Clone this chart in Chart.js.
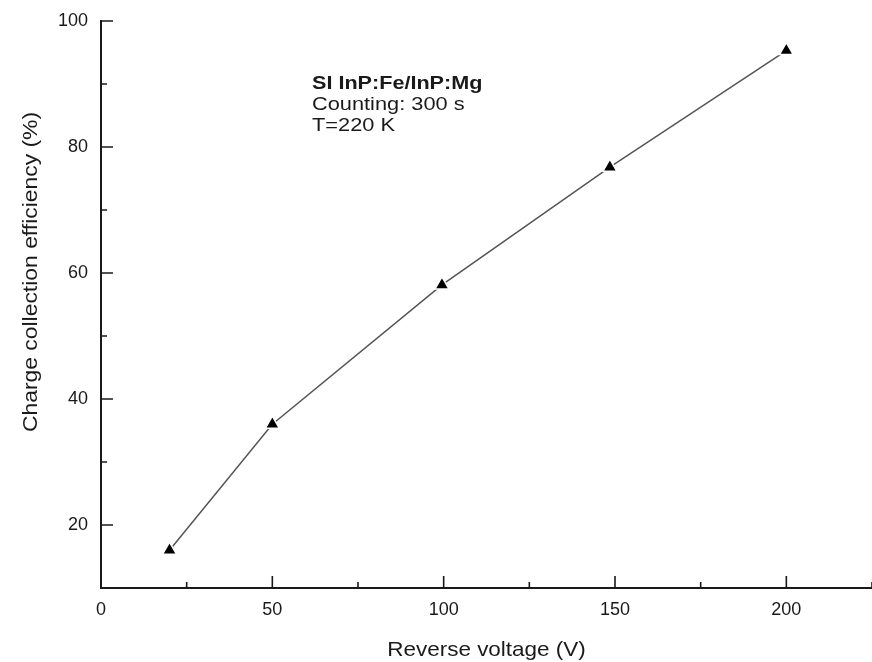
<!DOCTYPE html>
<html>
<head>
<meta charset="utf-8">
<script src="https://cdn.jsdelivr.net/npm/chart.js@4"></script>
<style>
	html, body { margin: 0; padding: 0; background: #fff; }
	#wrap { width: 872px; height: 662px; }
</style>
</head>
<body>
<div id="wrap"><canvas id="cce" width="872" height="662"></canvas></div>
<script>
// data
var voltage = [20, 50, 99.5, 148.5, 200];
var efficiency = [16, 36, 58.1, 76.8, 95.3];

var xMajorTicks = [0, 50, 100, 150, 200];
var xMinorTicks = [25, 75, 125, 175, 225];
var yMajorTicks = [20, 40, 60, 80, 100];
var yMinorTicks = [30, 50, 70, 90];

var xTitle = "Reverse voltage (V)";
var yTitle = "Charge collection efficiency (%)";
var noteLines = ["SI InP:Fe/InP:Mg", "Counting: 300 s", "T=220 K"];

var ink = "#1a1a1a";
var fontName = "'Liberation Sans', Arial, sans-serif";

var points = [];
for (var i = 0; i < voltage.length; i++) {
	points.push({x: voltage[i], y: efficiency[i]});
}

// stretched text, the figure's lettering is wider than plain Arial
var drawText = function(ctx, txt, x, y, font, sx, align) {
	ctx.save();
	ctx.font = font;
	ctx.fillStyle = ink;
	ctx.textBaseline = "alphabetic";
	ctx.translate(x, y);
	ctx.scale(sx, 1);
	ctx.textAlign = align;
	ctx.fillText(txt, 0, 0);
	ctx.restore();
};

var extras = {
	id: "extras",
	afterDraw: function(chart) {
		var ctx = chart.ctx, xs = chart.scales.x, ys = chart.scales.y;
		var area = chart.chartArea;
		ctx.save();
		ctx.strokeStyle = ink;
		ctx.lineWidth = 1.6;
		ctx.beginPath();
		xMajorTicks.forEach(function(v) {
			var px = xs.getPixelForValue(v);
			ctx.moveTo(px, area.bottom); ctx.lineTo(px, area.bottom - 12);
		});
		xMinorTicks.forEach(function(v) {
			var px = xs.getPixelForValue(v);
			ctx.moveTo(px, area.bottom); ctx.lineTo(px, area.bottom - 6);
		});
		yMajorTicks.forEach(function(v) {
			var py = ys.getPixelForValue(v);
			ctx.moveTo(area.left, py); ctx.lineTo(area.left + 12, py);
		});
		yMinorTicks.forEach(function(v) {
			var py = ys.getPixelForValue(v);
			ctx.moveTo(area.left, py); ctx.lineTo(area.left + 6, py);
		});
		ctx.stroke();
		ctx.restore();

		// axis titles
		drawText(ctx, xTitle, (area.left + area.right) / 2, 656, "21px " + fontName, 1.07, "center");
		ctx.save();
		ctx.translate(37, 272);
		ctx.rotate(-Math.PI / 2);
		drawText(ctx, yTitle, 0, 0, "21px " + fontName, 1.09, "center");
		ctx.restore();

		// annotation
		drawText(ctx, noteLines[0], 312, 89, "bold 18px " + fontName, 1.2, "left");
		drawText(ctx, noteLines[1], 312, 110, "18px " + fontName, 1.21, "left");
		drawText(ctx, noteLines[2], 312, 131, "18px " + fontName, 1.21, "left");
	}
};

new Chart(document.getElementById("cce"), {
	type: "line",
	data: {
		datasets: [{
			data: points,
			borderColor: "#555",
			borderWidth: 1.5,
			tension: 0,
			pointStyle: "triangle",
			pointRadius: 8,
			pointBackgroundColor: "#000",
			pointBorderColor: "#fff",
			pointBorderWidth: 1.5,
			fill: false,
			clip: false
		}]
	},
	options: {
		responsive: false,
		animation: false,
		events: [],
		layout: { autoPadding: false, padding: { top: 21, right: 0, left: 0, bottom: 0 } },
		plugins: {
			legend: { display: false },
			tooltip: { enabled: false }
		},
		scales: {
			x: {
				type: "linear",
				min: 0,
				max: 225,
				afterFit: function(s) { s.height = 74; s.paddingLeft = 0; s.paddingRight = 0; },
				afterBuildTicks: function(s) {
					s.ticks = xMajorTicks.map(function(v) { return {value: v}; });
				},
				grid: { drawOnChartArea: false, drawTicks: false },
				border: { display: true, color: ink, width: 2 },
				ticks: {
					padding: 11,
					color: ink,
					maxRotation: 0,
					font: { family: fontName, size: 18 }
				}
			},
			y: {
				min: 10,
				max: 100,
				afterFit: function(s) { s.width = 101; s.paddingTop = 0; s.paddingBottom = 0; },
				afterBuildTicks: function(s) {
					s.ticks = yMajorTicks.map(function(v) { return {value: v}; });
				},
				grid: { drawOnChartArea: false, drawTicks: false },
				border: { display: true, color: ink, width: 2 },
				ticks: {
					padding: 13,
					color: ink,
					font: { family: fontName, size: 18 }
				}
			}
		}
	},
	plugins: [extras]
});
</script>
</body>
</html>
